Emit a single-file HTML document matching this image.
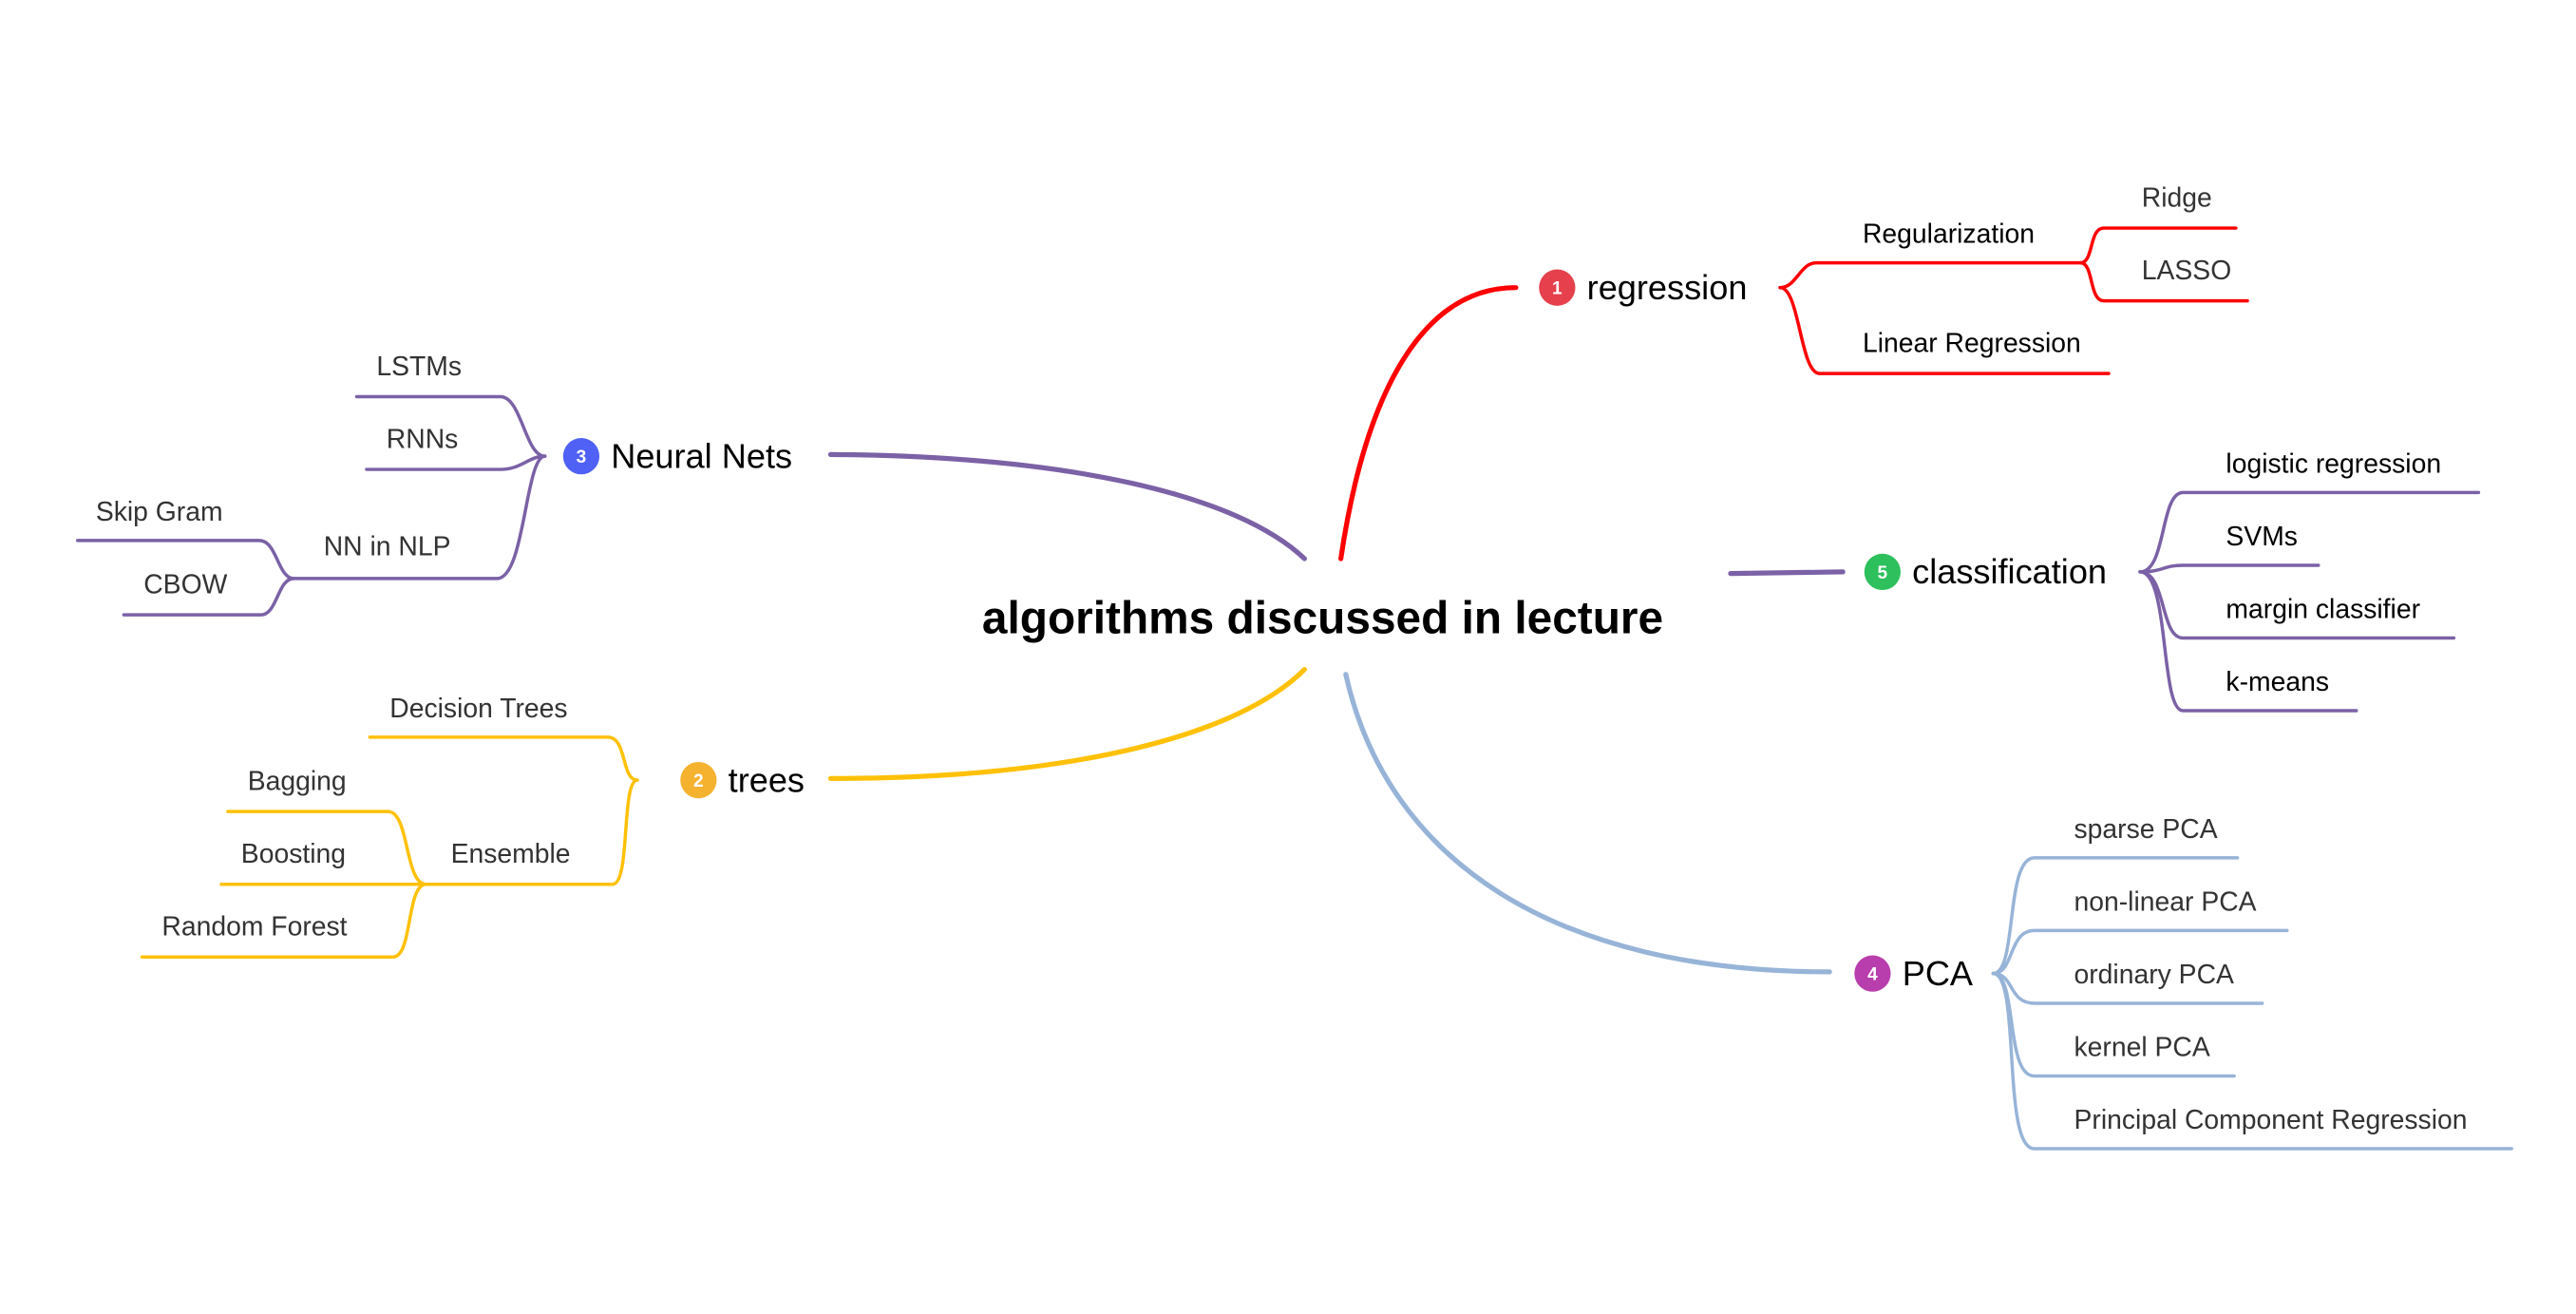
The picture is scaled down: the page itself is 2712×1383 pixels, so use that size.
<!DOCTYPE html>
<html><head><meta charset="utf-8"><style>
html,body{margin:0;padding:0;background:#fff;}
svg{display:block}
text{font-family:"Liberation Sans",Arial,sans-serif}
.l{font-size:16.3px;fill:#333}
.m{font-size:20.8px;fill:#000}
.n{font-size:11px;fill:#fff;font-weight:bold;text-anchor:middle}
path{fill:none;stroke-linecap:round}
</style></head><body>
<svg width="2712" height="1383" viewBox="0 0 1560 795" preserveAspectRatio="none" xmlns="http://www.w3.org/2000/svg">
<rect width="1560" height="795" fill="#fff"/>
<path d="M812,338 C828,230 865,174 918,174" stroke="#ff0000" stroke-width="3"/>
<path d="M790,338 C750,300 650,276 503,275" stroke="#7b61a6" stroke-width="3"/>
<path d="M790,405 C750,445 650,471 503,471" stroke="#ffc107" stroke-width="3"/>
<path d="M815,408 C840,520 940,588 1108,588" stroke="#97b4d8" stroke-width="3"/>
<path d="M1048,347 L1116,346" stroke="#7b61a6" stroke-width="3"/>
<text x="801" y="383" text-anchor="middle" style="font-size:27.5px;font-weight:bold" fill="#000">algorithms discussed in lecture</text>

<circle cx="943" cy="174" r="11" fill="#e5404b"/><text class="n" x="943" y="178">1</text>
<text class="m" x="961" y="181">regression</text>
<g stroke="#ff0000" stroke-width="2">
<path d="M1078,174 C1088,174 1090,159 1100,159 L1260,159"/>
<path d="M1078,174 C1090,174 1090,226 1102,226 L1277,226"/>
<path d="M1260,159 C1268,159 1265,138 1274,138 L1354,138"/>
<path d="M1260,159 C1268,159 1265,182 1274,182 L1361,182"/>
</g>
<text class="l" x="1128" y="147" style="fill:#000">Regularization</text>
<text class="l" x="1128" y="213" style="fill:#000">Linear Regression</text>
<text class="l" x="1297" y="125">Ridge</text>
<text class="l" x="1297" y="169">LASSO</text>

<circle cx="1140" cy="346" r="11" fill="#2dc05c"/><text class="n" x="1140" y="350">5</text>
<text class="m" x="1158" y="353">classification</text>
<g stroke="#7b61a6" stroke-width="2">
<path d="M1296,346 C1312,346 1308,298 1322,298 L1501,298"/>
<path d="M1296,346 C1310,346 1310,342 1322,342 L1404,342"/>
<path d="M1296,346 C1312,346 1308,386 1322,386 L1486,386"/>
<path d="M1296,346 C1314,346 1308,430 1322,430 L1427,430"/>
</g>
<text class="l" x="1348" y="286" style="fill:#000">logistic regression</text>
<text class="l" x="1348" y="330" style="fill:#000">SVMs</text>
<text class="l" x="1348" y="374" style="fill:#000">margin classifier</text>
<text class="l" x="1348" y="418" style="fill:#000">k-means</text>

<circle cx="1134" cy="589" r="11" fill="#b83dad"/><text class="n" x="1134" y="593">4</text>
<text class="m" x="1152" y="596">PCA</text>
<g stroke="#97b4d8" stroke-width="2">
<path d="M1207,589 C1222,589 1214,519 1232,519 L1355,519"/>
<path d="M1207,589 C1220,589 1216,563 1232,563 L1385,563"/>
<path d="M1207,589 C1220,589 1216,607 1232,607 L1370,607"/>
<path d="M1207,589 C1222,589 1214,651 1232,651 L1353,651"/>
<path d="M1207,589 C1224,589 1212,695 1232,695 L1521,695"/>
</g>
<text class="l" x="1256" y="507">sparse PCA</text>
<text class="l" x="1256" y="551">non-linear PCA</text>
<text class="l" x="1256" y="595">ordinary PCA</text>
<text class="l" x="1256" y="639">kernel PCA</text>
<text class="l" x="1256" y="683">Principal Component Regression</text>

<circle cx="352" cy="276" r="11" fill="#5061f5"/><text class="n" x="352" y="280">3</text>
<text class="m" x="370" y="283">Neural Nets</text>
<g stroke="#7b61a6" stroke-width="2">
<path d="M330,276 C318,276 316,240 303,240 L216,240"/>
<path d="M330,276 C320,276 316,284 303,284 L222,284"/>
<path d="M330,276 C318,276 318,350 301,350 L175,350"/>
<path d="M178,350 C168,350 168,327 157,327 L47,327"/>
<path d="M178,350 C168,350 168,372 158,372 L75,372"/>
</g>
<text class="l" x="228" y="227">LSTMs</text>
<text class="l" x="234" y="271">RNNs</text>
<text class="l" x="196" y="336">NN in NLP</text>
<text class="l" x="58" y="315">Skip Gram</text>
<text class="l" x="87" y="359">CBOW</text>

<circle cx="423" cy="472" r="11" fill="#f5b22e"/><text class="n" x="423" y="476">2</text>
<text class="m" x="441" y="479">trees</text>
<g stroke="#ffc107" stroke-width="2">
<path d="M386,472 C376,472 380,446 368,446 L224,446"/>
<path d="M386,472 C376,472 382,535 371,535 L134,535"/>
<path d="M258,535 C245,535 248,491 235,491 L138,491"/>
<path d="M258,535 C246,535 250,579 238,579 L86,579"/>
</g>
<text class="l" x="236" y="434">Decision Trees</text>
<text class="l" x="273" y="522">Ensemble</text>
<text class="l" x="150" y="478">Bagging</text>
<text class="l" x="146" y="522">Boosting</text>
<text class="l" x="98" y="566">Random Forest</text>
</svg>
</body></html>
